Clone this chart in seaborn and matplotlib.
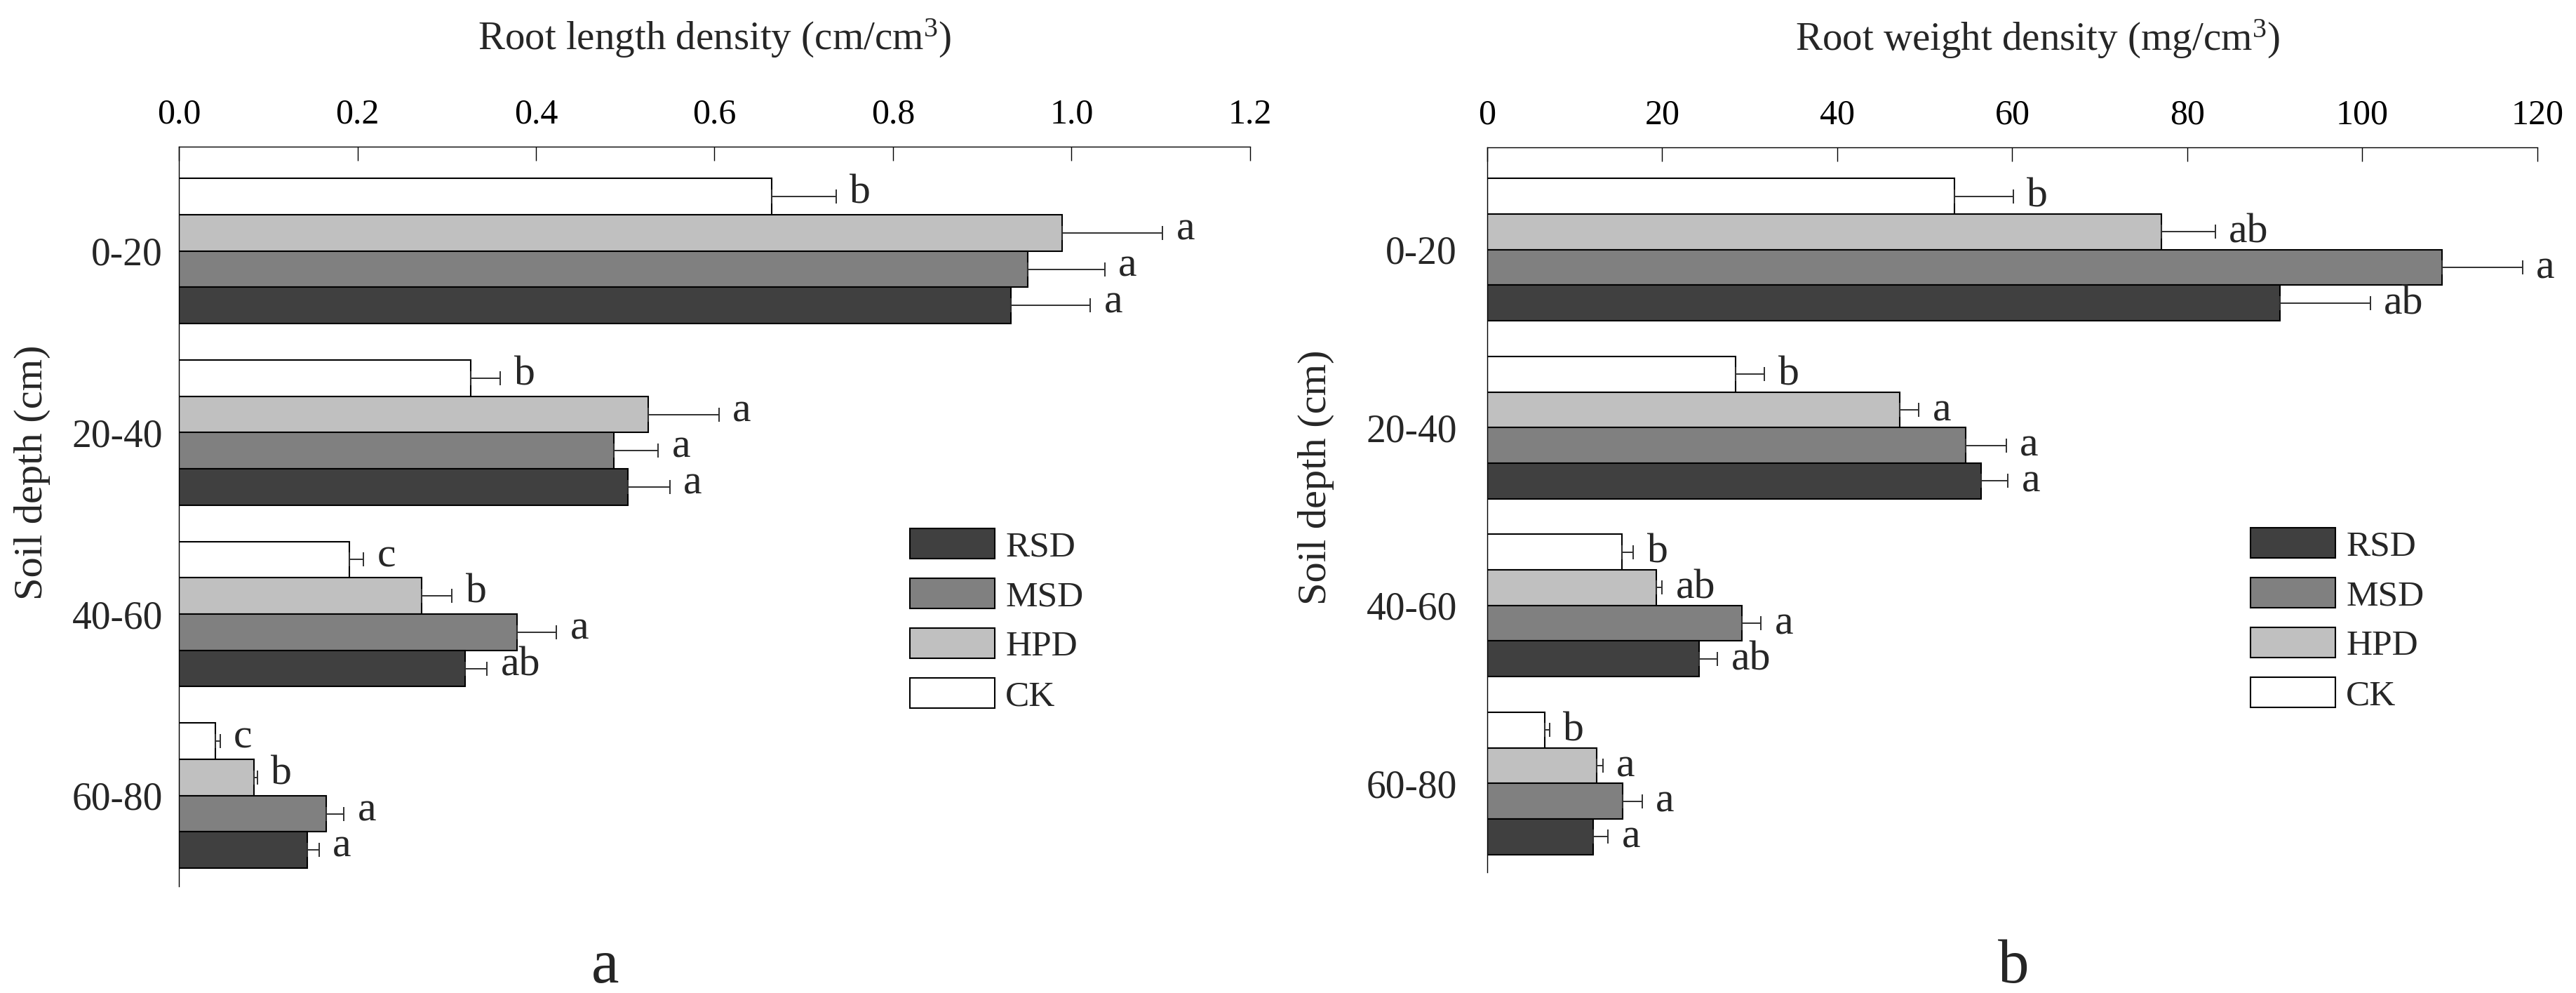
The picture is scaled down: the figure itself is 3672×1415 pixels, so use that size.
import matplotlib
matplotlib.use('Agg')
import matplotlib.pyplot as plt
import seaborn as sns
import pandas as pd
from matplotlib.patches import Patch

# ---------------- data ----------------
depths = ['0-20', '20-40', '40-60', '60-80']
treatments = ['CK', 'HPD', 'MSD', 'RSD']          # top-to-bottom inside each depth group
legend_order = ['RSD', 'MSD', 'HPD', 'CK']

# Root length density (cm/cm3)
rld_ck = [0.664, 0.327, 0.191, 0.041]
rld_hpd = [0.989, 0.526, 0.272, 0.084]
rld_msd = [0.951, 0.487, 0.379, 0.165]
rld_rsd = [0.932, 0.503, 0.321, 0.144]
rld_ck_se = [0.072, 0.033, 0.016, 0.005]
rld_hpd_se = [0.113, 0.079, 0.034, 0.004]
rld_msd_se = [0.086, 0.050, 0.044, 0.020]
rld_rsd_se = [0.089, 0.047, 0.024, 0.013]
rld_ck_sig = ['b', 'b', 'c', 'c']
rld_hpd_sig = ['a', 'a', 'b', 'b']
rld_msd_sig = ['a', 'a', 'a', 'a']
rld_rsd_sig = ['a', 'a', 'ab', 'a']

# Root weight density (mg/cm3)
rwd_ck = [53.4, 28.4, 15.4, 6.6]
rwd_hpd = [77.0, 47.1, 19.3, 12.5]
rwd_msd = [109.1, 54.7, 29.1, 15.5]
rwd_rsd = [90.6, 56.4, 24.2, 12.1]
rwd_ck_se = [6.7, 3.3, 1.3, 0.5]
rwd_hpd_se = [6.2, 2.2, 0.7, 0.7]
rwd_msd_se = [9.2, 4.6, 2.2, 2.2]
rwd_rsd_se = [10.3, 3.1, 2.1, 1.7]
rwd_ck_sig = ['b', 'b', 'b', 'b']
rwd_hpd_sig = ['ab', 'a', 'ab', 'a']
rwd_msd_sig = ['a', 'a', 'a', 'a']
rwd_rsd_sig = ['ab', 'a', 'ab', 'a']

rld_ticks = [0.0, 0.2, 0.4, 0.6, 0.8, 1.0, 1.2]
rld_ticklabels = ['0.0', '0.2', '0.4', '0.6', '0.8', '1.0', '1.2']
rwd_ticks = [0, 20, 40, 60, 80, 100, 120]
rwd_ticklabels = ['0', '20', '40', '60', '80', '100', '120']

palette = {'CK': '#ffffff', 'HPD': '#c0c0c0', 'MSD': '#808080', 'RSD': '#404040'}

# ---------------- style ----------------
sns.set_style('white')
plt.rcParams['font.family'] = ['Liberation Serif', 'DejaVu Serif']
plt.rcParams['mathtext.fontset'] = 'custom'
plt.rcParams['mathtext.rm'] = 'Liberation Serif'
plt.rcParams['mathtext.it'] = 'Liberation Serif:italic'

W, H = 3673, 1415
fig = plt.figure(figsize=(W / 100, H / 100), dpi=100)


def long_df(vals, ses, sigs):
    rows = []
    for t in treatments:
        for i, d in enumerate(depths):
            rows.append({'depth': d, 'treatment': t, 'value': vals[t][i],
                         'se': ses[t][i], 'sig': sigs[t][i]})
    return pd.DataFrame(rows)


def panel(px_left, px_right, px_top, px_bottom, df, xmax, ticks, ticklabels,
          xlabel, xlabel_x, ytick_pad, ylab_x, ylab_y, letter_dy, legend_xy):
    ax = fig.add_axes([px_left / W, 1 - px_bottom / H,
                       (px_right - px_left) / W, (px_bottom - px_top) / H])
    sns.barplot(data=df, y='depth', x='value', hue='treatment', order=depths,
                hue_order=treatments, palette=palette, saturation=1,
                edgecolor='black', linewidth=1.5, width=0.8, orient='h',
                errorbar=None, legend=False, ax=ax)
    lookup = df.set_index(['depth', 'treatment'])
    for bar in ax.patches:
        yc = bar.get_y() + bar.get_height() / 2
        w = bar.get_width()
        ci = int(round(yc))
        hi = int(round((yc - ci) / 0.2 + 1.5))
        row = lookup.loc[(depths[ci], treatments[hi])]
        err = row['se']
        ax.errorbar(w, yc, xerr=[[0], [err]], fmt='none', ecolor='#303030',
                    elinewidth=1.4, capsize=7, capthick=1.4, zorder=3)
        ax.annotate(row['sig'], xy=(w + err, yc), xytext=(14, letter_dy),
                    textcoords='offset points', ha='left', va='baseline',
                    fontsize=43, annotation_clip=False)
    ax.set_xlim(0, xmax)
    ax.set_ylim(3.5, -0.575)
    ax.set_xticks(ticks)
    ax.set_xticklabels(ticklabels)
    ax.xaxis.tick_top()
    ax.xaxis.set_label_position('top')
    ax.tick_params(axis='x', direction='in', length=14.4, width=1, pad=16,
                   labelsize=36, top=True, bottom=False, colors='black')
    ax.tick_params(axis='y', length=0, pad=ytick_pad, labelsize=40, left=False)
    for s in ['right', 'bottom']:
        ax.spines[s].set_visible(False)
    for s in ['top', 'left']:
        ax.spines[s].set_linewidth(1.0)
        ax.spines[s].set_color('black')
    ax.set_xlabel(xlabel, fontsize=41, labelpad=50)
    ax.xaxis.label.set_x(xlabel_x)
    ax.set_ylabel('Soil depth (cm)', fontsize=42)
    ax.yaxis.set_label_coords((ylab_x - px_left) / (px_right - px_left),
                              (px_bottom - ylab_y) / (px_bottom - px_top))
    handles = [Patch(facecolor=palette[t], edgecolor='black', linewidth=1.5, label=t)
               for t in legend_order]
    ax.legend(handles=handles, loc='upper left',
              bbox_to_anchor=(legend_xy[0] / W, 1 - legend_xy[1] / H),
              bbox_transform=fig.transFigure, frameon=False, fontsize=37,
              handlelength=2.35, handleheight=0.92, handletextpad=0.3,
              labelspacing=0.4, borderpad=0, borderaxespad=0)
    return ax


rld_df = long_df({'CK': rld_ck, 'HPD': rld_hpd, 'MSD': rld_msd, 'RSD': rld_rsd},
                 {'CK': rld_ck_se, 'HPD': rld_hpd_se, 'MSD': rld_msd_se, 'RSD': rld_rsd_se},
                 {'CK': rld_ck_sig, 'HPD': rld_hpd_sig, 'MSD': rld_msd_sig, 'RSD': rld_rsd_sig})
rwd_df = long_df({'CK': rwd_ck, 'HPD': rwd_hpd, 'MSD': rwd_msd, 'RSD': rwd_rsd},
                 {'CK': rwd_ck_se, 'HPD': rwd_hpd_se, 'MSD': rwd_msd_se, 'RSD': rwd_rsd_se},
                 {'CK': rwd_ck_sig, 'HPD': rwd_hpd_sig, 'MSD': rwd_msd_sig, 'RSD': rwd_rsd_sig})

panel(255, 1782, 209, 1263, rld_df, 1.2, rld_ticks, rld_ticklabels,
      r'Root length density (cm/cm$^{3}$)', 0.5, 16.5, 72, 673, -7, (1297, 753))
panel(2120, 3617, 210, 1243, rwd_df, 120, rwd_ticks, rwd_ticklabels,
      r'Root weight density (mg/cm$^{3}$)', 0.524, 31, 1902, 680, -11, (3208, 752))

fig.text(863 / W, 1 - 1400 / H, 'a', ha='center', va='baseline', fontsize=64)
fig.text(2870 / W, 1 - 1400 / H, 'b', ha='center', va='baseline', fontsize=64)

fig.savefig('out.png', dpi=100, facecolor='white')
